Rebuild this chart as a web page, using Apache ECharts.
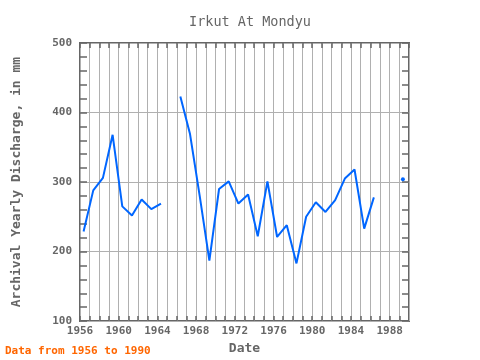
<!DOCTYPE html>
<html><head><meta charset="utf-8">
<script src="https://cdn.jsdelivr.net/npm/echarts@6/dist/echarts.min.js"></script>
<style>html,body{margin:0;padding:0;background:#fff}#c{width:480px;height:360px}</style>
</head><body><div id="c"></div>
<script>
var years = [1956,1957,1958,1959,1960,1961,1962,1963,1964,1965,1966,1967,1968,1969,1970,1971,1972,1973,1974,1975,1976,1977,1978,1979,1980,1981,1982,1983,1984,1985,1986,1987,1988,1989];
var discharge = [229,288,306,368,265,252,275,261,269,null,423,369,280,187,290,301,269,282,222,301,221,238,183,250,271,257,274,305,318,233,278,null,null,304];
var xTicks = [1956,1960,1964,1968,1972,1976,1980,1984,1988];
var yTicks = [100,200,300,400,500];

var MID = 0.37; // plotted within each year
var pts = years.map(function(y,i){
  var v = discharge[i];
  var prev = i>0 ? discharge[i-1] : null, next = i<discharge.length-1 ? discharge[i+1] : null;
  var isolated = v!=null && prev==null && next==null;
  return isolated ? {value:[y+MID, v], symbol:'circle', symbolSize:4} : {value:[y+MID, v]};
});
var font = '"DejaVu Sans Mono", monospace';
var grey = '#666';
var chart = echarts.init(document.getElementById('c'));
chart.setOption({
  animation:false,
  title:{text:'Irkut At Mondyu', left:245, textAlign:'center', top:10, textStyle:{fontFamily:font, fontSize:13.5, fontWeight:'normal', color:grey}},
  graphic:[{type:'text', left:5, top:346, style:{text:'Data from 1956 to 1990', fill:'#ff6600', font:'bold 11px '+font}}],
  grid:{left:80, right:71, top:43, bottom:38, show:true, borderColor:grey, borderWidth:2, backgroundColor:'transparent'},
  xAxis:[{type:'value', min:1956, max:1990, interval:1,
    name:'Date', nameLocation:'middle', nameGap:20, nameTextStyle:{fontFamily:font, fontSize:13, color:grey, fontWeight:'bold'},
    axisLine:{show:false}, axisTick:{inside:true, length:5, lineStyle:{color:grey, width:1.5}},
    axisLabel:{margin:5, fontFamily:font, fontSize:11, fontWeight:'bold', color:grey, showMaxLabel:false,
      formatter:function(v){ return xTicks.indexOf(v)>=0 ? String(v) : ''; }},
    splitLine:{show:true, lineStyle:{color:'#b0b0b0', width:1}}},
   {type:'value', position:'top', min:1956, max:1990, interval:1,
    axisLine:{show:false}, axisTick:{inside:true, length:5, lineStyle:{color:grey, width:1.5}},
    axisLabel:{show:false}, splitLine:{show:false}}],
  yAxis:[{type:'value', min:100, max:500, interval:100,
    name:'Archival Yearly Discharge, in mm', nameLocation:'middle', nameGap:57,
    nameTextStyle:{fontFamily:font, fontSize:13, color:grey, fontWeight:'bold'},
    axisLine:{show:false}, axisTick:{inside:true, length:7, lineStyle:{color:grey, width:1.5}},
    minorTick:{show:true, splitNumber:5, length:7, lineStyle:{color:grey, width:1.5}},
    axisLabel:{margin:8, fontFamily:font, fontSize:11, fontWeight:'bold', color:grey,
      formatter:function(v){ return yTicks.indexOf(v)>=0 ? String(v) : ''; }},
    splitLine:{show:true, lineStyle:{color:'#b0b0b0', width:1}}},
   {type:'value', position:'right', min:100, max:500, interval:100,
    axisLine:{show:false}, axisTick:{inside:true, length:7, lineStyle:{color:grey, width:1.5}},
    minorTick:{show:true, splitNumber:5, length:7, lineStyle:{color:grey, width:1.5}},
    axisLabel:{show:false}, splitLine:{show:false}}],
  series:[{type:'line', data:pts, connectNulls:false, symbol:'none', showSymbol:true,
    itemStyle:{color:'#0066ff'}, lineStyle:{color:'#0066ff', width:2}}]
});
</script></body></html>
